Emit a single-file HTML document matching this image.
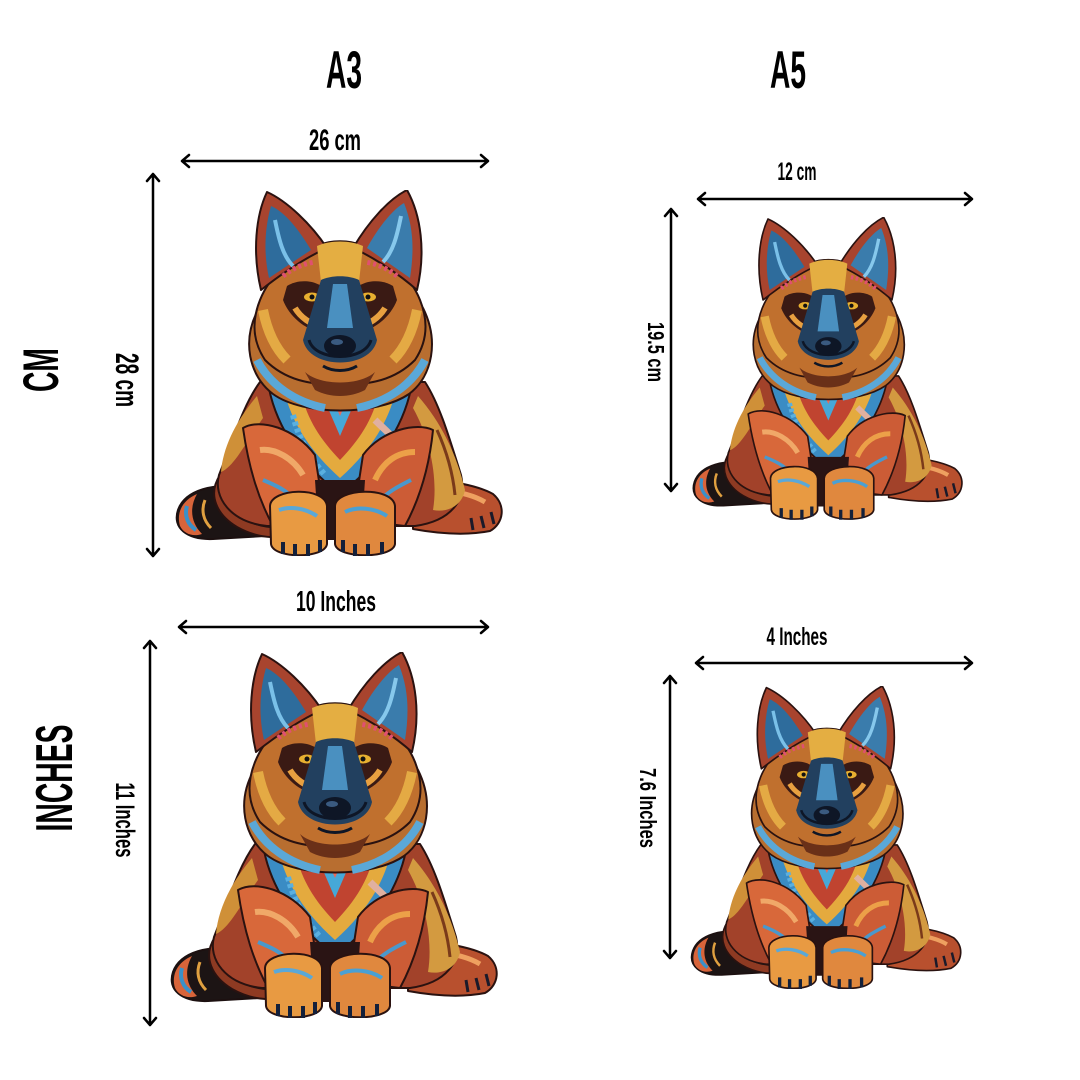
<!DOCTYPE html>
<html>
<head>
<meta charset="utf-8">
<style>
  html,body{margin:0;padding:0;background:#fff;}
  svg{display:block;}
  text{font-family:"Liberation Sans", sans-serif;font-weight:bold;fill:#000;}
</style>
</head>
<body>
<svg width="1080" height="1080" viewBox="0 0 1080 1080" xmlns="http://www.w3.org/2000/svg">
  <defs>
    <symbol id="dog" viewBox="0 0 328 366">
      <g stroke-linejoin="round">
      <!-- tail -->
      <path d="M70 298 C40 292 10 300 3 320 C-3 338 12 350 38 349 L90 346 Z" fill="#1c1414" stroke="#1c1010" stroke-width="2"/>
      <path d="M22 304 C8 310 1 322 5 336 C9 344 18 347 27 344 C16 333 14 318 22 304Z" fill="#d8643a"/>
      <path d="M12 316 C9 326 13 335 21 340" stroke="#3a90c8" stroke-width="4" fill="none"/>
      <path d="M30 310 C26 320 28 330 36 338" stroke="#e0a040" stroke-width="3" fill="none"/>
      <!-- left hind leg -->
      <path d="M45 285 C32 305 42 325 62 337 C85 350 112 350 122 340 L122 280 Z" fill="#8e3a22" stroke="#2a1210" stroke-width="2"/>
      <path d="M55 318 C70 332 90 338 110 336" stroke="#1c1414" stroke-width="4" fill="none"/>
      <!-- right hind paw -->
      <path d="M238 288 C270 290 300 294 318 304 C331 315 329 333 315 341 C290 346 260 343 238 339 Z" fill="#b8502e" stroke="#2a1210" stroke-width="2"/>
      <path d="M268 300 C285 302 300 306 310 312" stroke="#eea060" stroke-width="5" fill="none"/>
      <path d="M296 328 L298 340 M306 326 L309 338 M316 322 L319 334" stroke="#1a1a2a" stroke-width="3"/>
      <!-- body -->
      <path d="M85 192 C68 215 58 250 44 285 C38 307 55 332 92 336 L240 336 C276 331 292 310 286 285 C275 250 265 215 250 192 Z" fill="#a2422a" stroke="#2a1210" stroke-width="2"/>
      <!-- right fur gold -->
      <path d="M243 206 C266 232 282 265 290 300 C287 316 272 323 258 320 C263 290 256 250 238 218Z" fill="#d39a40"/>
      <path d="M262 240 C272 262 278 285 280 305" stroke="#7a3a1a" stroke-width="3" fill="none"/>
      <!-- left fur gold -->
      <path d="M82 206 C60 232 48 258 46 282 C60 276 72 250 88 228Z" fill="#cf9038"/>
      <!-- chest bib -->
      <path d="M92 186 L238 186 C233 230 207 272 165 304 C123 272 97 230 92 186Z" fill="#3a8cc4" stroke="#2a1210" stroke-width="2"/>
      <path d="M108 196 L222 196 C214 234 193 263 165 288 C137 263 116 234 108 196Z" fill="#e4aa3e"/>
      <path d="M126 202 L204 202 C198 230 184 250 165 270 C146 250 132 230 126 202Z" fill="#c04430"/>
      <path d="M146 202 L184 202 L165 246Z" fill="#46a8d8"/>
      <path d="M156 206 L174 206 L165 226Z" fill="#e86a5a"/>
      <path d="M118 225 C124 250 135 268 150 285" stroke="#5ab0e0" stroke-width="6" stroke-dasharray="4 3" fill="none"/>
      <path d="M200 230 C210 240 222 250 230 262" stroke="#e0b0a0" stroke-width="7" fill="none"/>
      <!-- front legs -->
      <path d="M68 238 C85 228 120 238 140 265 L150 330 L98 336 C84 310 74 280 68 238Z" fill="#d8683a" stroke="#2a1210" stroke-width="2"/>
      <path d="M85 260 C100 258 118 268 128 285" stroke="#f0a868" stroke-width="6" fill="none"/>
      <path d="M88 290 C100 295 112 300 122 312" stroke="#4a98cc" stroke-width="4" fill="none"/>
      <path d="M258 240 C242 232 206 240 188 265 L178 330 L230 336 C244 310 254 280 258 240Z" fill="#cc5c36" stroke="#2a1210" stroke-width="2"/>
      <path d="M240 262 C222 262 208 272 200 290" stroke="#eca048" stroke-width="6" fill="none"/>
      <path d="M236 290 C224 296 212 302 204 312" stroke="#4a98cc" stroke-width="4" fill="none"/>
      <!-- shadow between paws -->
      <path d="M140 290 L190 290 L186 350 L144 350Z" fill="#2a1414"/>
      <!-- paws -->
      <path d="M95 316 C96 298 150 296 152 316 L152 354 C150 369 98 369 96 354Z" fill="#e89a42" stroke="#2a1210" stroke-width="2"/>
      <path d="M104 320 C115 316 130 318 142 326" stroke="#5aa8d8" stroke-width="4" fill="none"/>
      <path d="M108 352 L108 364 M120 354 L120 366 M133 354 L133 366 M145 350 L145 362" stroke="#14203a" stroke-width="4"/>
      <path d="M160 316 C161 298 218 296 220 316 L220 354 C218 369 162 369 160 354Z" fill="#e0883e" stroke="#2a1210" stroke-width="2"/>
      <path d="M170 322 C182 316 200 318 212 326" stroke="#4aa0d4" stroke-width="4" fill="none"/>
      <path d="M168 350 L168 362 M180 354 L180 366 M193 354 L193 366 M207 352 L207 364" stroke="#14203a" stroke-width="4"/>
      <!-- neck ruff -->
      <path d="M84 118 C66 150 74 186 98 204 C128 226 202 226 234 204 C258 186 264 150 248 118 Z" fill="#b86e30" stroke="#2a1210" stroke-width="2"/>
      <path d="M82 170 C95 195 120 212 150 218" stroke="#5aa8d8" stroke-width="8" fill="none"/>
      <path d="M250 170 C237 195 212 212 182 218" stroke="#5aa8d8" stroke-width="8" fill="none"/>
      <!-- head -->
      <path d="M145 55 C155 50 175 50 185 55 C210 62 235 85 245 110 C255 135 250 155 240 170 C220 190 195 195 165 195 C135 195 110 190 90 170 C80 155 75 135 85 110 C95 85 120 62 145 55 Z" fill="#c0702e" stroke="#2a1210" stroke-width="2"/>
      <!-- ears -->
      <path d="M92 2 C81 25 77 62 86 100 C105 85 130 68 152 58 C136 34 112 11 92 2Z" fill="#a8442e" stroke="#2a1210" stroke-width="2"/>
      <path d="M96 16 C89 40 89 66 94 88 L136 60 C124 40 110 22 96 16Z" fill="#2e6c9c"/>
      <path d="M100 30 C104 50 108 66 118 76" stroke="#7ac0e8" stroke-width="4" fill="none"/>
      <path d="M232 0 C246 25 251 62 242 100 C225 85 200 68 178 58 C194 31 214 9 232 0Z" fill="#a8442e" stroke="#2a1210" stroke-width="2"/>
      <path d="M229 13 C239 38 239 62 235 88 L192 58 C203 38 217 20 229 13Z" fill="#3a7cac"/>
      <path d="M226 26 C222 46 218 62 208 72" stroke="#86c8ec" stroke-width="4" fill="none"/>
      <path d="M88 120 C92 140 100 158 112 170" stroke="#e4aa44" stroke-width="10" fill="none"/>
      <path d="M242 120 C238 140 230 158 218 170" stroke="#e4aa44" stroke-width="10" fill="none"/>
      <path d="M142 56 C155 50 175 50 188 56 L184 92 L146 92Z" fill="#e4ae42"/>
      <path d="M108 86 C118 78 128 74 140 72" stroke="#e05070" stroke-width="5" stroke-dasharray="3 3" fill="none"/>
      <path d="M222 86 C212 78 202 74 190 72" stroke="#e05070" stroke-width="5" stroke-dasharray="3 3" fill="none"/>
      <!-- dark saddle around eyes -->
      <path d="M112 96 C124 88 145 90 152 102 L146 142 C130 140 114 126 108 110Z" fill="#3a1a14"/>
      <path d="M218 96 C206 88 185 90 178 102 L184 142 C200 140 216 126 222 110Z" fill="#3a1a14"/>
      <path d="M120 118 C126 128 136 134 144 136" stroke="#e8a040" stroke-width="6" fill="none"/>
      <path d="M210 118 C204 128 194 134 186 136" stroke="#e8a040" stroke-width="6" fill="none"/>
      <!-- eyes -->
      <ellipse cx="137" cy="107" rx="8" ry="4.5" fill="#e8b030"/>
      <circle cx="137" cy="107" r="2.5" fill="#111"/>
      <ellipse cx="193" cy="107" rx="8" ry="4.5" fill="#e8b030"/>
      <circle cx="193" cy="107" r="2.5" fill="#111"/>
      <!-- muzzle -->
      <path d="M146 90 C156 85 174 85 184 90 L202 150 C196 180 134 180 128 150 Z" fill="#22405f"/>
      <path d="M158 94 L172 94 L178 138 L152 138Z" fill="#4a90c0"/>
      <path d="M134 150 C140 172 190 172 196 150" stroke="#0e1626" stroke-width="3" fill="none"/>
      <ellipse cx="165" cy="156" rx="16" ry="11" fill="#0e1626"/>
      <ellipse cx="162" cy="152" rx="6" ry="3" fill="#3a5a80"/>
      <path d="M148 176 C158 182 172 182 182 176" stroke="#0e1626" stroke-width="3" fill="none"/>
      <!-- chin fur -->
      <path d="M130 182 C145 196 185 196 200 182 L190 200 C175 208 155 208 140 200Z" fill="#6a3018"/>
      </g>
    </symbol>
  </defs>

  <!-- Dogs -->
  <use href="#dog" x="175" y="190" width="328" height="366"/>
  <use href="#dog" x="692" y="217" width="271" height="303"/>
  <use href="#dog" x="170" y="652" width="328" height="366"/>
  <use href="#dog" x="690" y="686" width="272" height="303"/>

  <!-- Arrows -->
  <g stroke="#000" stroke-width="2.5" fill="none" stroke-linecap="round" stroke-linejoin="round">
    <path d="M182 161 L488 161 M189 155 L182 161 L189 167 M481 155 L488 161 L481 167"/>
    <path d="M153 174 L153 556 M147 181 L153 174 L159 181 M147 549 L153 556 L159 549"/>
    <path d="M698 199 L972 199 M705 193 L698 199 L705 205 M965 193 L972 199 L965 205"/>
    <path d="M671 209 L671 491 M665 216 L671 209 L677 216 M665 484 L671 491 L677 484"/>
    <path d="M179 627 L488 627 M186 621 L179 627 L186 633 M481 621 L488 627 L481 633"/>
    <path d="M150 641 L150 1025 M144 648 L150 641 L156 648 M144 1018 L150 1025 L156 1018"/>
    <path d="M696 663 L972 663 M703 657 L696 663 L703 669 M965 657 L972 663 L965 669"/>
    <path d="M670 676 L670 958 M664 683 L670 676 L676 683 M664 951 L670 958 L676 951"/>
  </g>

  <!-- Headers -->
  <text x="344" y="88" font-size="53" text-anchor="middle" textLength="36" lengthAdjust="spacingAndGlyphs">A3</text>
  <text x="788" y="88" font-size="53" text-anchor="middle" textLength="36" lengthAdjust="spacingAndGlyphs">A5</text>

  <!-- Horizontal labels -->
  <text x="335" y="150" font-size="30" text-anchor="middle" textLength="52" lengthAdjust="spacingAndGlyphs">26 cm</text>
  <text x="797" y="180" font-size="25" text-anchor="middle" textLength="39" lengthAdjust="spacingAndGlyphs">12 cm</text>
  <text x="336" y="611" font-size="29" text-anchor="middle" textLength="80" lengthAdjust="spacingAndGlyphs">10 Inches</text>
  <text x="797" y="645" font-size="25" text-anchor="middle" textLength="61" lengthAdjust="spacingAndGlyphs">4 Inches</text>

  <!-- Row labels -->
  <text transform="translate(58,370) rotate(-90)" font-size="50" text-anchor="middle" textLength="44" lengthAdjust="spacingAndGlyphs">CM</text>
  <text transform="translate(72,778) rotate(-90)" font-size="52" text-anchor="middle" textLength="107" lengthAdjust="spacingAndGlyphs">INCHES</text>

  <!-- Vertical labels -->
  <text transform="translate(116,380) rotate(90)" font-size="32" text-anchor="middle" textLength="54" lengthAdjust="spacingAndGlyphs">28 cm</text>
  <text transform="translate(116,820) rotate(90)" font-size="27" text-anchor="middle" textLength="75" lengthAdjust="spacingAndGlyphs">11 Inches</text>
  <text transform="translate(648,352) rotate(90)" font-size="23" text-anchor="middle" textLength="60" lengthAdjust="spacingAndGlyphs">19.5 cm</text>
  <text transform="translate(640,808) rotate(90)" font-size="23" text-anchor="middle" textLength="80" lengthAdjust="spacingAndGlyphs">7.6 Inches</text>
</svg>
</body>
</html>
